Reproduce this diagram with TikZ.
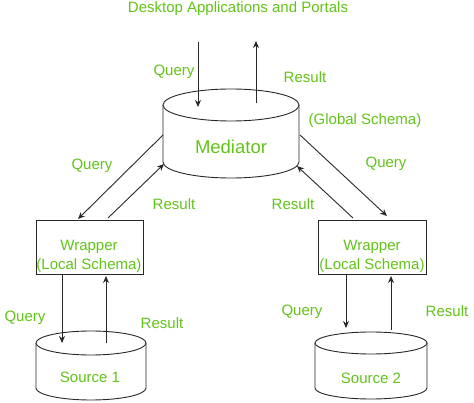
\documentclass[tikz,border=0pt]{standalone}
\usepackage{fontspec}
\setmainfont{Liberation Sans}
\usetikzlibrary{arrows.meta}
\definecolor{lbl}{RGB}{98,196,24}
\definecolor{edge}{RGB}{40,40,40}
\tikzset{
  lab/.style={text=lbl, font=\fontsize{15}{17}\selectfont, inner sep=0pt},
  biglab/.style={text=lbl, font=\fontsize{18.5}{21}\selectfont, inner sep=0pt},
  conn/.style={draw=edge, line width=0.9pt, -{Stealth[length=7pt,width=6pt]}},
  boxst/.style={draw=edge, line width=0.9pt, fill=white},
  cyl/.style={draw=edge, line width=0.9pt, fill=white},
}
\newcommand{\mycyl}[5]{% cx, top y, bottom y, rx, ry
  \path[cyl] (#1-#4,#2) -- (#1-#4,#3) arc[start angle=180,end angle=0,x radius=#4,y radius=#5] -- (#1+#4,#2);
  \path[cyl] (#1,#2) ellipse[x radius=#4,y radius=#5];
}
\begin{document}
\begin{tikzpicture}[x=1pt,y=-1pt]
\useasboundingbox[fill=white] (0,0) rectangle (474,403);
% cylinders
\mycyl{231}{105}{162}{68}{16}
\mycyl{91}{343}{388}{55}{12}
\mycyl{371}{343}{388}{56}{11}
% boxes
\path[boxst] (36,220) rectangle (143,274);
\path[boxst] (318,220) rectangle (426,274);
% texts
\node[lab] (title) at (238,9) {Desktop Applications and Portals};
\node[biglab] (med) at (231,147) {Mediator};
\node[lab] (glob) at (365,121) {(Global Schema)};
\node[lab] (w1) at (89,247) {Wrapper};
\node[lab] (l1) at (89,266) {(Local Schema)};
\node[lab] (w2) at (372,247) {Wrapper};
\node[lab] (l2) at (372,266) {(Local Schema)};
\node[lab] (s1) at (90,377) {Source 1};
\node[lab] (s2) at (371,378) {Source 2};
\node[lab] (q0) at (174,72) {Query};
\node[lab] (r0) at (305,77) {Result};
\node[lab] (q1) at (92,166) {Query};
\node[lab] (r1) at (174,204) {Result};
\node[lab] (q2) at (386,164) {Query};
\node[lab] (r2) at (293,204) {Result};
\node[lab] (q3) at (25,318) {Query};
\node[lab] (r3) at (162,323) {Result};
\node[lab] (q4) at (302,312) {Query};
\node[lab] (r4) at (447,311) {Result};
% connector end points
\coordinate (a0) at (198,42); \coordinate (b0) at (198,107);
\coordinate (c0) at (256,103); \coordinate (d0) at (256,41);
\coordinate (a1) at (163,135); \coordinate (b1) at (78,219);
\coordinate (c1) at (108,218); \coordinate (d1) at (164,164);
\coordinate (a2) at (300,135); \coordinate (b2) at (387,216);
\coordinate (c2) at (353,218); \coordinate (d2) at (297,166);
\coordinate (a3) at (62,274); \coordinate (b3) at (62,343);
\coordinate (c3) at (106,343); \coordinate (d3) at (106,276);
\coordinate (a4) at (346,274); \coordinate (b4) at (346,328);
\coordinate (c4) at (391,330); \coordinate (d4) at (391,276);
\foreach \s/\e in {a0/b0,c0/d0,a1/b1,c1/d1,a2/b2,c2/d2,a3/b3,c3/d3,a4/b4,c4/d4}
  \draw[conn] (\s) -- (\e);
\end{tikzpicture}
\end{document}
